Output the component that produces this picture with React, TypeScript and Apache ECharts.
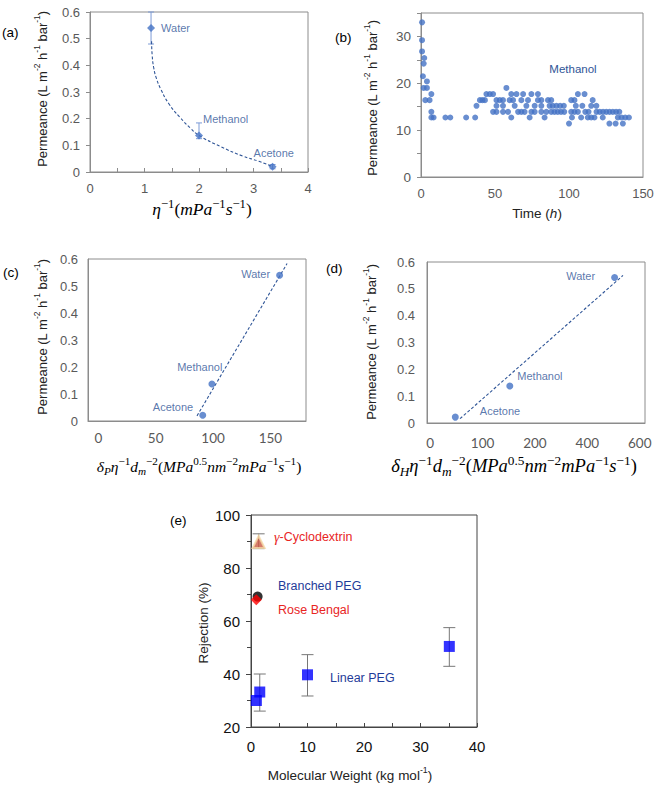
import React, { useEffect, useRef } from "react";
import * as echarts from "echarts";

// ---------- Panel (a): permeance vs inverse viscosity ----------
const aNames = ["Water", "Methanol", "Acetone"];
const aX = [1.12, 2.0, 3.35];
const aY = [0.54, 0.137, 0.02];
const aLow = [0.48, 0.125, 0.012];
const aHigh = [0.6, 0.184, 0.028];
const aFitX = [1.13, 1.14, 1.17, 1.22, 1.3, 1.45, 1.65, 1.85, 2.0, 2.4, 2.8, 3.1, 3.35];
const aFitY = [0.49, 0.44, 0.39, 0.35, 0.31, 0.255, 0.205, 0.163, 0.137, 0.095, 0.06, 0.04, 0.02];

// ---------- Panel (b): methanol permeance over time ----------
const bTime = [
  0.7, 0.7, 0.7, 2.2, 1.8, 1.3, 4, 1.8, 4, 2.9, 5.8, 7, 7, 7, 8.5,
  16.5, 19.8, 30.5, 36.6, 37.5, 39.8, 41.5, 43.2, 44.2, 46.5, 48.7,
  57.7,
  61, 64.5, 69, 74.6, 79, 106, 110.5,
  51, 53.2, 55.4, 59.9, 62.2, 67.8, 72.3, 79, 81.3, 85.8, 88, 101.5, 103.7, 116,
  51, 55.4, 63.3, 71.2, 76.8, 81.3, 86.9, 89, 91.5, 94, 96.5, 104.6, 109, 115, 118.5,
  48.7, 51, 55.4, 58.8, 65.6, 67.8, 70, 74.6, 76.8, 81.3, 84.7, 88, 90.2, 92.4, 94.6, 96.8,
  101.5, 103.7, 106, 111, 113.2, 118.6, 120.8, 123, 125.2, 127.4, 129.6, 131.8, 134,
  61, 73.4, 83.5, 102, 108.2, 112.7, 115, 117.2, 122.8, 133, 135.5, 138, 140.5,
  100, 127.3, 131.5, 136.4,
];
const bPerm = [
  33, 29.2, 26.8, 25.4, 24.2, 21.5, 20.4, 19, 19, 16.4, 16.4, 17.7, 13.9, 12.7, 12.7,
  12.7, 12.7, 12.7, 12.7, 15.2, 16.4, 16.4, 16.4, 17.7, 17.7, 17.7,
  19.0,
  17.7, 17.7, 17.7, 17.7, 17.7, 17.7, 17.7,
  16.4, 16.4, 16.4, 16.4, 16.4, 16.4, 16.4, 16.4, 16.4, 16.4, 16.4, 16.4, 16.4, 16.4,
  15.2, 15.2, 15.2, 15.2, 15.2, 15.2, 15.2, 15.2, 15.2, 15.2, 15.2, 15.2, 15.2, 15.2, 15.2,
  13.9, 13.9, 13.9, 13.9, 13.9, 13.9, 13.9, 13.9, 13.9, 13.9, 13.9, 13.9, 13.9, 13.9, 13.9, 13.9,
  13.9, 13.9, 13.9, 13.9, 13.9, 13.9, 13.9, 13.9, 13.9, 13.9, 13.9, 13.9, 13.9,
  12.7, 12.7, 12.7, 12.7, 12.7, 12.7, 12.7, 12.7, 12.7, 12.7, 12.7, 12.7, 12.7,
  11.4, 11.4, 11.4, 11.4,
];

// ---------- Panel (c): permeance vs deltaP/(eta dm^2) ----------
const cNames = ["Water", "Methanol", "Acetone"];
const cX = [158, 99, 91];
const cY = [0.54, 0.137, 0.021];
const cFitX = [86, 164.5];
const cFitY = [0.019, 0.583];
const cTicks = [0, 50, 100, 150];

// ---------- Panel (d): permeance vs deltaH/(eta dm^2) ----------
const dNames = ["Water", "Methanol", "Acetone"];
const dX = [3.52, 1.52, 0.48];
const dY = [0.542, 0.138, 0.022];
const dFitX = [0.57, 3.68];
const dFitY = [0.016, 0.55];
const dTickPos = [0, 1, 2, 3, 4];
const dTickLabels = ["0", "100", "200", "400", "600"];

// ---------- Panel (e): rejection vs molecular weight ----------
const eLinX = [0.95, 1.55, 10.0, 35.1];
const eLinY = [30.0, 33.2, 39.7, 50.4];
const eLinLow = [null, 26.0, 31.7, 42.9];
const eLinHigh = [null, 40.0, 47.3, 57.5];
const eCycX = [1.35];
const eCycY = [89.8];
const eCycLow = [87.3];
const eCycHigh = [92.9];
const eBranchedX = [1.17];
const eBranchedY = [69.2];
const eRoseX = [0.94];
const eRoseY = [68.0];

// ---------- styles ----------
const W = 658;
const H = 787;
const SANS = "'Liberation Sans', Arial, sans-serif";
const SERIF = "'Liberation Serif', 'Times New Roman', serif";
const BLUE = "#4472C4";
const LBLUE = "#2F5597";
const GRAY = "#595959";
const FRAME = "#8c8c8c";
const RED = "#E8251F";
const NAVY = "#1F3C99";

// label offsets (layout only)
const aLabelPos = [
  { position: "right", offset: [6, 0] },
  { position: "right", offset: [0, -16] },
  { position: "right", offset: [-23, -14] },
];
const cLabelPos = [
  { position: "left", offset: [-6, -1] },
  { position: "left", offset: [14, -17] },
  { position: "left", offset: [-6, -8] },
];
const dLabelPos = [
  { position: "left", offset: [-16, -2] },
  { position: "right", offset: [4, -10] },
  { position: "right", offset: [21, -6] },
];

function errorBars(idx: number, xs: number[], lows: any[], highs: any[], color: string, cap: number, z = 2) {
  const data: number[][] = [];
  xs.forEach((x, i) => {
    if (lows[i] != null) data.push([x, lows[i], highs[i]]);
  });
  return {
    type: "custom",
    xAxisIndex: idx,
    yAxisIndex: idx,
    z,
    data,
    encode: { x: 0, y: [1, 2] },
    renderItem: (_p: any, api: any) => {
      const x = api.value(0);
      const lo = api.coord([x, api.value(1)]);
      const hi = api.coord([x, api.value(2)]);
      const h = cap / 2;
      const st = { stroke: color, lineWidth: 1 };
      return {
        type: "group",
        children: [
          { type: "line", shape: { x1: lo[0], y1: lo[1], x2: hi[0], y2: hi[1] }, style: st },
          { type: "line", shape: { x1: lo[0] - h, y1: lo[1], x2: lo[0] + h, y2: lo[1] }, style: st },
          { type: "line", shape: { x1: hi[0] - h, y1: hi[1], x2: hi[0] + h, y2: hi[1] }, style: st },
        ],
      };
    },
  };
}

function pointSeries(idx: number, names: string[], xs: number[], ys: number[], pos: any[], symbol: string, size: number) {
  return {
    type: "scatter",
    xAxisIndex: idx,
    yAxisIndex: idx,
    symbol,
    symbolSize: size,
    z: 4,
    itemStyle: { color: BLUE },
    data: xs.map((x, i) => ({
      name: names[i],
      value: [x, ys[i]],
      label: {
        show: true,
        position: pos[i].position,
        distance: 0,
        offset: pos[i].offset,
        formatter: "{b}",
        color: LBLUE,
        fontSize: 11,
        fontFamily: SANS,
      },
    })),
  };
}

function fitLine(idx: number, xs: number[], ys: number[], smooth: boolean) {
  return {
    type: "line",
    xAxisIndex: idx,
    yAxisIndex: idx,
    smooth,
    showSymbol: false,
    symbol: "none",
    z: 3,
    lineStyle: { color: LBLUE, width: 1.1, type: [3, 2] },
    data: xs.map((x, i) => [x, ys[i]]),
  };
}

const fmt1 = (v: number) => String(Math.round(v * 10) / 10);

function permYAxis(idx: number, ticks: boolean, margin: number) {
  return {
    gridIndex: idx,
    type: "value",
    min: 0,
    max: 0.6,
    interval: 0.1,
    axisLine: { show: true, onZero: false, lineStyle: { color: FRAME } },
    axisTick: { show: ticks, length: 4, lineStyle: { color: FRAME } },
    splitLine: { show: false },
    axisLabel: { color: GRAY, fontSize: 13, fontFamily: SANS, margin, formatter: fmt1 },
  };
}

// rich text helpers (graphic text uses "fill" for colour)
function mathRich(size: number, color = "#000") {
  const s = size * 0.72;
  return {
    i: { fontFamily: SERIF, fontStyle: "italic", fontSize: size, lineHeight: size + 5, fill: color, color },
    n: { fontFamily: SERIF, fontSize: size, lineHeight: size + 5, fill: color, color },
    s: { fontFamily: SERIF, fontSize: s, lineHeight: s, verticalAlign: "top", fill: color, color },
    b: { fontFamily: SERIF, fontStyle: "italic", fontSize: s, lineHeight: s, verticalAlign: "bottom", fill: color, color },
  };
}
function sansRich(size: number, color = "#222") {
  return {
    n: { fontFamily: SANS, fontSize: size, lineHeight: size + 6, fill: color, color },
    it: { fontFamily: SANS, fontStyle: "italic", fontSize: size, lineHeight: size + 6, fill: color, color },
    s: { fontFamily: SANS, fontSize: size * 0.65, lineHeight: size * 0.65 + 1, verticalAlign: "top", fill: color, color },
  };
}

function txt(x: number, y: number, text: string, rich: any, opts: any = {}) {
  return {
    type: "text",
    x,
    y,
    rotation: opts.rotation || 0,
    z: 10,
    style: {
      text,
      rich,
      fill: opts.fill || "#000",
      align: opts.align || "center",
      verticalAlign: "middle",
    },
  };
}

const permTitle = "{n|Permeance (L m}{s|-2}{n| h}{s|-1}{n| bar}{s|-1}{n|)}";

function buildOption(): any {
  const panelFont = sansRich(13.5, "#000");
  return {
    animation: false,
    backgroundColor: "#fff",
    grid: [
      { left: 90, top: 12, width: 218, height: 160, show: true, borderColor: FRAME, borderWidth: 1 },
      { left: 421, top: 13, width: 222, height: 164, show: true, borderColor: FRAME, borderWidth: 1 },
      { left: 88, top: 259, width: 218, height: 162, show: true, borderColor: FRAME, borderWidth: 1 },
      { left: 427, top: 262, width: 218, height: 161, show: true, borderColor: FRAME, borderWidth: 1 },
      { left: 251, top: 515, width: 226, height: 212, show: true, borderColor: "#444", borderWidth: 1 },
    ],
    xAxis: [
      {
        gridIndex: 0, type: "value", min: 0, max: 4, interval: 0.5,
        axisLine: { onZero: false, lineStyle: { color: FRAME } },
        axisTick: { inside: true, length: 4, lineStyle: { color: FRAME } },
        splitLine: { show: false },
        axisLabel: { color: GRAY, fontSize: 13, fontFamily: SANS, margin: 10, formatter: (v: number) => (Number.isInteger(v) ? String(v) : "") },
      },
      {
        gridIndex: 1, type: "value", min: 0, max: 150, interval: 50,
        axisLine: { onZero: false, lineStyle: { color: FRAME } },
        axisTick: { show: false },
        splitLine: { show: false },
        axisLabel: { color: GRAY, fontSize: 13, fontFamily: SANS, margin: 10 },
      },
      {
        gridIndex: 2, type: "value", min: -9, max: 181,
        axisLine: { onZero: false, lineStyle: { color: FRAME } },
        axisTick: { show: false },
        splitLine: { show: false },
        axisLabel: { color: GRAY, fontSize: 13.5, fontFamily: "Lato, sans-serif", margin: 10, customValues: cTicks },
      },
      {
        gridIndex: 3, type: "value", min: -0.06, max: 4.1,
        axisLine: { onZero: false, lineStyle: { color: FRAME } },
        axisTick: { show: false },
        splitLine: { show: false },
        axisLabel: {
          color: GRAY, fontSize: 13.5, fontFamily: "Lato, sans-serif", margin: 13,
          customValues: dTickPos,
          formatter: (v: number) => dTickLabels[Math.round(v)] ?? "",
        },
      },
      {
        gridIndex: 4, type: "value", min: 0, max: 40, interval: 10,
        axisLine: { onZero: false, lineStyle: { color: "#444" } },
        axisTick: { inside: true, length: 4, lineStyle: { color: "#444" } },
        minorTick: { show: true, splitNumber: 2, length: 4, lineStyle: { color: "#444" } },
        splitLine: { show: false },
        axisLabel: { color: "#111", fontSize: 15, fontFamily: SANS, margin: 12 },
      },
    ],
    yAxis: [
      permYAxis(0, true, 10),
      {
        gridIndex: 1, type: "value", min: 0, max: 35, interval: 5,
        axisLine: { show: true, onZero: false, lineStyle: { color: FRAME } },
        axisTick: { show: true, length: 4, lineStyle: { color: FRAME } },
        splitLine: { show: false },
        axisLabel: { color: GRAY, fontSize: 13.5, fontFamily: SANS, margin: 10, formatter: (v: number) => (v % 10 === 0 ? String(v) : "") },
      },
      permYAxis(2, false, 10),
      permYAxis(3, false, 12),
      {
        gridIndex: 4, type: "value", min: 20, max: 100, interval: 20,
        axisLine: { show: true, onZero: false, lineStyle: { color: "#444" } },
        axisTick: { show: true, length: 5, lineStyle: { color: "#444" } },
        minorTick: { show: true, splitNumber: 2, length: 4, lineStyle: { color: "#444" } },
        splitLine: { show: false },
        axisLabel: { color: "#111", fontSize: 15, fontFamily: SANS, margin: 11 },
      },
    ],
    series: [
      // (a)
      fitLine(0, aFitX, aFitY, true),
      errorBars(0, aX, aLow, aHigh, "#7C9BD6", 6),
      pointSeries(0, aNames, aX, aY, aLabelPos, "diamond", 8),
      // (b)
      {
        type: "scatter", xAxisIndex: 1, yAxisIndex: 1, symbolSize: 6,
        itemStyle: { color: BLUE },
        data: bTime.map((t, i) => [t, bPerm[i]]),
      },
      // (c)
      fitLine(2, cFitX, cFitY, false),
      pointSeries(2, cNames, cX, cY, cLabelPos, "circle", 7),
      // (d)
      fitLine(3, dFitX, dFitY, false),
      pointSeries(3, dNames, dX, dY, dLabelPos, "circle", 7),
      // (e)
      errorBars(4, eLinX, eLinLow, eLinHigh, "#777", 12, 2),
      errorBars(4, eCycX, eCycLow, eCycHigh, "#777", 12, 2),
      {
        type: "scatter", xAxisIndex: 4, yAxisIndex: 4, symbol: "rect", symbolSize: 11, z: 4,
        itemStyle: { color: "#0000FF" },
        data: eLinX.map((x, i) => [x, eLinY[i]]),
      },
      {
        type: "scatter", xAxisIndex: 4, yAxisIndex: 4, symbol: "triangle", symbolSize: 12, z: 3,
        itemStyle: { color: "#CC5A45", borderColor: "#F5D9A6", borderWidth: 2 },
        data: eCycX.map((x, i) => [x, eCycY[i]]),
      },
      {
        type: "scatter", xAxisIndex: 4, yAxisIndex: 4, symbol: "circle", symbolSize: 10, z: 4,
        itemStyle: { color: "#000" },
        data: eBranchedX.map((x, i) => [x, eBranchedY[i]]),
      },
      {
        type: "scatter", xAxisIndex: 4, yAxisIndex: 4, symbol: "diamond", symbolSize: 11, z: 5,
        itemStyle: { color: "#FF0000" },
        data: eRoseX.map((x, i) => [x, eRoseY[i]]),
      },
    ],
    graphic: [
      // panel letters
      txt(2, 32, "{n|(a)}", panelFont, { align: "left" }),
      txt(335, 37, "{n|(b)}", panelFont, { align: "left" }),
      txt(3, 272, "{n|(c)}", panelFont, { align: "left" }),
      txt(326, 268, "{n|(d)}", panelFont, { align: "left" }),
      txt(170, 520, "{n|(e)}", panelFont, { align: "left" }),
      // y titles
      txt(42, 89, permTitle, sansRich(13), { rotation: Math.PI / 2 }),
      txt(372, 98, permTitle, sansRich(13), { rotation: Math.PI / 2 }),
      txt(42, 337, permTitle, sansRich(13), { rotation: Math.PI / 2 }),
      txt(371, 342, permTitle, sansRich(13), { rotation: Math.PI / 2 }),
      txt(203, 623, "{n|Rejection (%)}", sansRich(13.5), { rotation: Math.PI / 2 }),
      // x titles
      txt(202, 209, "{i|η}{s|−1}{n|(}{i|mPa}{s|−1}{i|s}{s|−1}{n|)}", mathRich(17.5)),
      txt(537, 213, "{n|Time (}{it|h}{n|)}", sansRich(13.5)),
      txt(199, 466, "{i|δ}{b|P}{i|η}{s|−1}{i|d}{b|m}{s|−2}{n|(}{i|MPa}{s|0.5}{i|nm}{s|−2}{i|mPa}{s|−1}{i|s}{s|−1}{n|)}", mathRich(15.5)),
      txt(514, 466, "{i|δ}{b|H}{i|η}{s|−1}{i|d}{b|m}{s|−2}{n|(}{i|MPa}{s|0.5}{i|nm}{s|−2}{i|mPa}{s|−1}{i|s}{s|−1}{n|)}", mathRich(18.5)),
      txt(350, 775, "{n|Molecular Weight (kg mol}{s|-1}{n|)}", sansRich(13.5)),
      // annotations
      txt(573, 69, "{n|Methanol}", sansRich(11.5, LBLUE), { fill: LBLUE }),
      txt(274, 537, "{g|γ}{n|-Cyclodextrin}", {
        g: { fontFamily: SERIF, fontStyle: "italic", fontSize: 14, lineHeight: 18, fill: RED, color: RED },
        n: { fontFamily: SANS, fontSize: 12.5, lineHeight: 18, fill: RED, color: RED },
      }, { align: "left", fill: RED }),
      txt(278, 586, "{n|Branched PEG}", sansRich(12.5, NAVY), { align: "left", fill: NAVY }),
      txt(278, 610, "{n|Rose Bengal}", sansRich(12.5, RED), { align: "left", fill: RED }),
      txt(330, 678, "{n|Linear PEG}", sansRich(12.5, NAVY), { align: "left", fill: NAVY }),
    ],
  };
}

export default function App() {
  const ref = useRef<HTMLDivElement>(null);
  useEffect(() => {
    document.body.style.margin = "0";
    if (!ref.current) return;
    const chart = echarts.init(ref.current, undefined, { renderer: "svg" });
    chart.setOption(buildOption());
    return () => chart.dispose();
  }, []);
  return <div ref={ref} style={{ width: W, height: H }} />;
}
